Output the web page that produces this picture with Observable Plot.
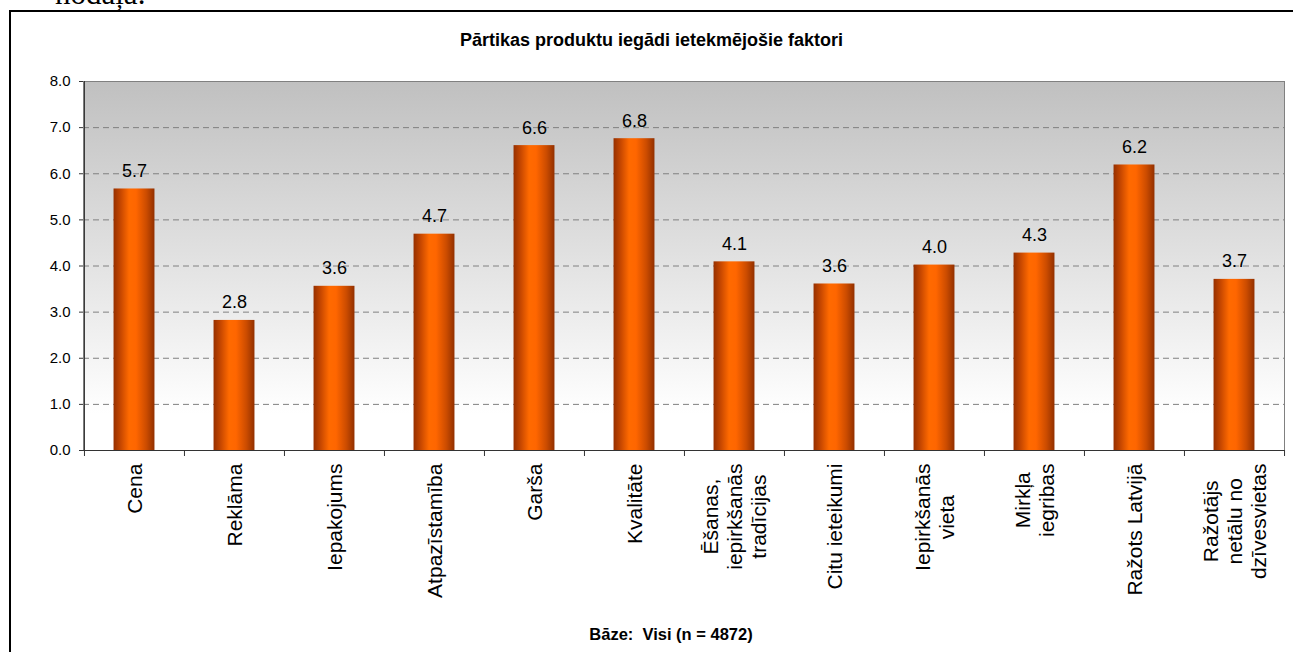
<!DOCTYPE html>
<html>
<head>
<meta charset="utf-8">
<script src="https://cdn.jsdelivr.net/npm/d3@7"></script>
<script src="https://cdn.jsdelivr.net/npm/@observablehq/plot@0.6"></script>
<style>
  html, body { margin: 0; padding: 0; background: #fff; }
  body { width: 1293px; height: 652px; overflow: hidden; position: relative; font-family: "Liberation Sans", Arial, sans-serif; color: #000; }
  #frame { position: absolute; left: 9px; top: 10px; width: 1400px; height: 800px; border: 2px solid #000; box-sizing: border-box; }
  #pre { position: absolute; left: 55px; top: -22px; font-family: "Liberation Serif", "Times New Roman", serif; font-size: 31px; line-height: 31px; white-space: nowrap; }
  #title { position: absolute; left: 10px; width: 1283px; top: 30px; text-align: center; font-weight: bold; font-size: 18px; line-height: 20px; }
  #caption { position: absolute; left: 60px; width: 1222px; top: 625px; text-align: center; font-weight: bold; font-size: 16.5px; line-height: 18px; white-space: pre; }
  #chart { position: absolute; left: 0; top: 0; }
</style>
</head>
<body>
<div id="frame"></div>
<div id="pre">nodaļa.</div>
<div id="chart"></div>
<div id="title">Pārtikas produktu iegādi ietekmējošie faktori</div>
<div id="caption">Bāze:  Visi (n = 4872)</div>
<script>
const categories = [
  "Cena",
  "Reklāma",
  "Iepakojums",
  "Atpazīstamība",
  "Garša",
  "Kvalitāte",
  "Ēšanas,\niepirkšanās\ntradīcijas",
  "Citu ieteikumi",
  "Iepirkšanās\nvieta",
  "Mirkļa\niegribas",
  "Ražots Latvijā",
  "Ražotājs\nnetālu no\ndzīvesvietas"
];
const values = [5.67, 2.82, 3.56, 4.69, 6.61, 6.76, 4.09, 3.61, 4.02, 4.28, 6.19, 3.71];
const yTicks = [0, 1, 2, 3, 4, 5, 6, 7, 8];
const gridTicks = [1, 2, 3, 4, 5, 6, 7];

const data = categories.map((c, i) => ({cat: c, value: values[i]}));

const W = 1293, H = 652, ML = 83, MR = 9, MT = 81, MB = 202;
const bw = (W - ML - MR) / categories.length;
const barW = 41;
const inset = (bw - barW) / 2;

const chart = Plot.plot({
  width: W, height: H,
  marginLeft: ML, marginRight: MR, marginTop: MT, marginBottom: MB,
  style: {fontFamily: "'Liberation Sans', Arial, sans-serif", color: "#000", background: "transparent", overflow: "visible"},
  x: {domain: categories, padding: 0, axis: null, label: null},
  y: {domain: [0, 8], axis: null, label: null},
  marks: [
    Plot.frame({fill: "url(#bgGrad)", stroke: "#808080"}),
    Plot.gridY(gridTicks, {stroke: "#808080", strokeOpacity: 1, strokeDasharray: "6,4"}),
    Plot.barY(data, {x: "cat", y: "value", fill: "url(#barGrad)", insetLeft: inset, insetRight: inset}),
    Plot.ruleY([0], {stroke: "#333"}),
    Plot.ruleX([categories[0]], {dx: -bw / 2, y1: 0, y2: 8, stroke: "#333"}),
    Plot.axisY(yTicks, {tickFormat: d => d.toFixed(1), tickSize: 4, tickPadding: 9, fontSize: 15, stroke: "#333", label: null}),
    Plot.axisX(categories, {tickSize: 6, tickFormat: () => "", dx: -bw / 2, stroke: "#333", label: null}),
    Plot.axisX([categories[categories.length - 1]], {tickSize: 6, tickFormat: () => "", dx: bw / 2, stroke: "#333", label: null}),
    Plot.text(data, {x: "cat", y: "value", text: d => d.value.toFixed(1), dy: -12, lineAnchor: "bottom", fontSize: 18, fill: "#000"}),
    Plot.text(data, {x: "cat", text: "cat", frameAnchor: "bottom", rotate: -90, textAnchor: "middle", lineAnchor: "middle", fontSize: 21, lineHeight: 1.13, fill: "#000"})
  ]
});

// gradients
const defs = d3.select(chart).insert("defs", ":first-child");
const bg = defs.append("linearGradient").attr("id", "bgGrad").attr("x1", 0).attr("y1", 0).attr("x2", 0).attr("y2", 1);
bg.append("stop").attr("offset", 0).attr("stop-color", "#c0c0c0");
bg.append("stop").attr("offset", 0.9).attr("stop-color", "#ffffff");
bg.append("stop").attr("offset", 1).attr("stop-color", "#ffffff");
const bar = defs.append("linearGradient").attr("id", "barGrad").attr("x1", 0).attr("y1", 0).attr("x2", 1).attr("y2", 0);
[[0, "#963000"], [0.18, "#c84800"], [0.38, "#ff6a00"], [0.55, "#ff6600"], [0.8, "#cc4c00"], [1, "#923000"]]
  .forEach(([o, c]) => bar.append("stop").attr("offset", o).attr("stop-color", c));

document.getElementById("chart").appendChild(chart);

// top-align rotated category labels (centered lines, block hanging below the axis)
const baseY = H - MB;
d3.select(chart).selectAll("text").each(function() {
  const t = this.getAttribute("transform") || "";
  if (!/rotate\(-90\)/.test(t)) return;
  const m = t.match(/translate\(([^,\s]+)[,\s]+([^)]+)\)/);
  if (!m) return;
  const L = this.getBBox().width;
  this.setAttribute("transform", `translate(${m[1]},${baseY + 13 + L / 2}) rotate(-90)`);
});
</script>
</body>
</html>
